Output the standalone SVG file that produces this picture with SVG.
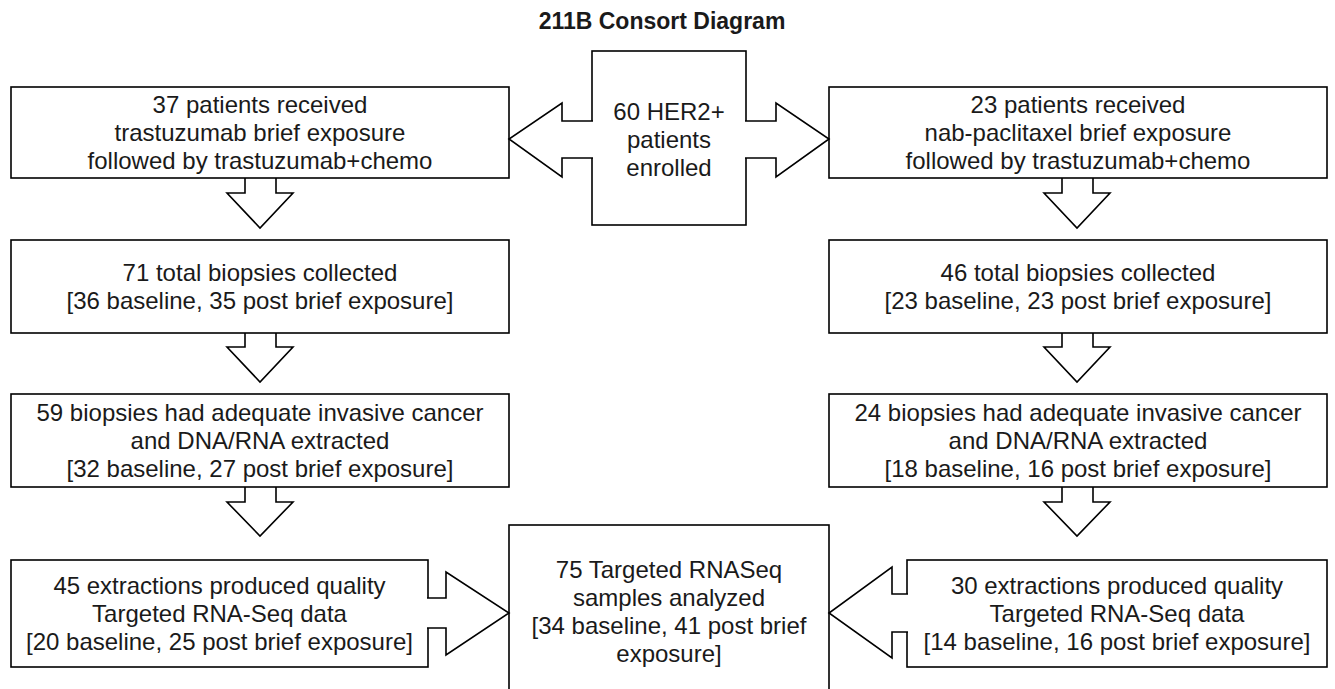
<svg xmlns="http://www.w3.org/2000/svg" width="1335" height="689" viewBox="0 0 1335 689">
<style>
.box{fill:#fff;stroke:#000;stroke-width:1.6}
.arr{fill:#fff;stroke:#000;stroke-width:1.6;stroke-linejoin:miter}
.dn{fill:none;stroke:#000;stroke-width:1.6;stroke-linejoin:miter}
text{font-family:"Liberation Sans",Arial,sans-serif;font-size:24px;fill:#1a1a1a;text-anchor:middle}
.title{font-weight:bold;font-size:23px}
</style>
<rect width="1335" height="689" fill="#fff"/>
<text class="title" x="662" y="29">211B Consort Diagram</text>

<g id="enrolled">
<rect class="box" x="592" y="51" width="154" height="174"/>
<text x="669" y="120.1">60 HER2+</text>
<text x="669" y="148.1">patients</text>
<text x="669" y="176.1">enrolled</text>
</g>

<g id="arm-a-patients">
<rect class="box" x="11" y="87" width="498" height="91"/>
<text x="260" y="113.1">37 patients received</text>
<text x="260" y="141.1">trastuzumab brief exposure</text>
<text x="260" y="169.1">followed by trastuzumab+chemo</text>
</g>
<g id="arm-b-patients">
<rect class="box" x="829" y="87" width="498" height="91"/>
<text x="1078" y="113.1">23 patients received</text>
<text x="1078" y="141.1">nab-paclitaxel brief exposure</text>
<text x="1078" y="169.1">followed by trastuzumab+chemo</text>
</g>

<g id="arm-a-biopsies">
<rect class="box" x="11" y="240" width="498" height="93"/>
<text x="260" y="281.1">71 total biopsies collected</text>
<text x="260" y="309.1">[36 baseline, 35 post brief exposure]</text>
</g>
<g id="arm-b-biopsies">
<rect class="box" x="829" y="240" width="498" height="93"/>
<text x="1078" y="281.1">46 total biopsies collected</text>
<text x="1078" y="309.1">[23 baseline, 23 post brief exposure]</text>
</g>

<g id="arm-a-extracted">
<rect class="box" x="11" y="394" width="498" height="93"/>
<text x="260" y="421.1">59 biopsies had adequate invasive cancer</text>
<text x="260" y="449.1">and DNA/RNA extracted</text>
<text x="260" y="477.1">[32 baseline, 27 post brief exposure]</text>
</g>
<g id="arm-b-extracted">
<rect class="box" x="829" y="394" width="498" height="93"/>
<text x="1078" y="421.1">24 biopsies had adequate invasive cancer</text>
<text x="1078" y="449.1">and DNA/RNA extracted</text>
<text x="1078" y="477.1">[18 baseline, 16 post brief exposure]</text>
</g>

<g id="arm-a-rnaseq">
<rect class="box" x="11" y="560" width="417" height="107"/>
<text x="219.5" y="594.1">45 extractions produced quality</text>
<text x="219.5" y="622.1">Targeted RNA-Seq data</text>
<text x="219.5" y="650.1">[20 baseline, 25 post brief exposure]</text>
</g>
<g id="arm-b-rnaseq">
<rect class="box" x="907" y="560" width="420" height="107"/>
<text x="1117" y="594.1">30 extractions produced quality</text>
<text x="1117" y="622.1">Targeted RNA-Seq data</text>
<text x="1117" y="650.1">[14 baseline, 16 post brief exposure]</text>
</g>

<g id="analyzed">
<rect class="box" x="509" y="525" width="320" height="175"/>
<text x="669" y="577.6">75 Targeted RNASeq</text>
<text x="669" y="605.6">samples analyzed</text>
<text x="669" y="633.6">[34 baseline, 41 post brief</text>
<text x="669" y="661.6">exposure]</text>
</g>

<g id="connectors">
<path class="arr" d="M593,121 H562 V103 L509,139 L562,177 V158 H593"/>
<path class="arr" d="M745,121 H776 V103 L829,139 L776,177 V158 H745"/>
<path class="dn" d="M245,178 V193 H227 L260,228 L293,193 H276 V178"/>
<path class="dn" d="M245,333 V347 H227 L260,382 L293,347 H276 V333"/>
<path class="dn" d="M245,487 V502 H227 L260,536 L293,502 H276 V487"/>
<path class="dn" d="M1062,178 V193 H1044 L1077,228 L1110,193 H1093 V178"/>
<path class="dn" d="M1062,333 V347 H1044 L1077,382 L1110,347 H1093 V333"/>
<path class="dn" d="M1062,487 V502 H1044 L1077,536 L1110,502 H1093 V487"/>
<path class="arr" d="M427,598 H446 V572 L509,613 L446,655 V628 H427"/>
<path class="arr" d="M908,594 H892 V567 L829,613 L892,658 V632 H908"/>
</g>
</svg>
